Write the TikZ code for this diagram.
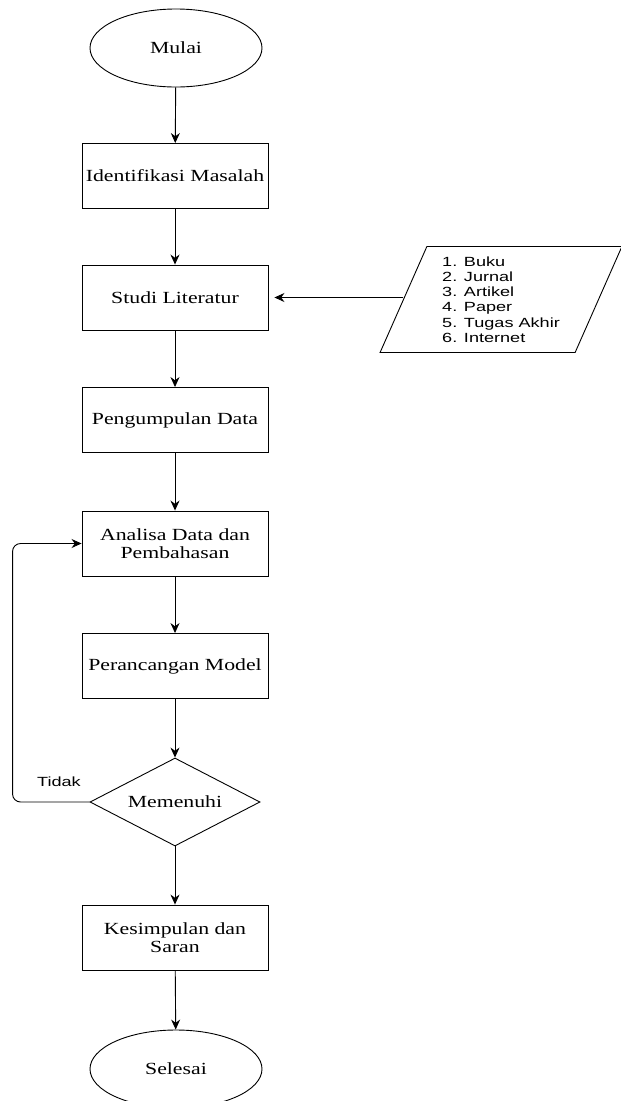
\documentclass[tikz,border=0pt]{standalone}
\usepackage{fontspec}
\setmainfont[FakeStretch=1.28]{Liberation Serif}
\newfontfamily\listfont[FakeStretch=1.36]{Liberation Sans}
\usepackage{tikz}
\usetikzlibrary{shapes.geometric, arrows.meta}
\tikzstyle{startstop} = [ellipse, minimum width=172pt, minimum height=78pt, draw=black, line width=0.9pt, font=\fontsize{17}{18}\selectfont]
\tikzstyle{process} = [rectangle, minimum width=186pt, minimum height=65pt, inner sep=2pt, align=center, draw=black, line width=0.9pt, font=\fontsize{17}{18}\selectfont]
\tikzstyle{decision} = [diamond, aspect=2, inner sep=0pt, minimum width=170pt, minimum height=88pt, draw=black, line width=0.9pt, font=\fontsize{17}{18}\selectfont]
\tikzstyle{io} = [trapezium, trapezium left angle=67, trapezium right angle=113, trapezium stretches=true, minimum width=242pt, minimum height=106pt, align=left, draw=black, line width=0.9pt, font=\listfont\fontsize{13.3}{15.2}\selectfont]
\tikzstyle{arrow} = [line width=0.9pt,-{Stealth[length=10pt,width=9pt]}]

\begin{document}
\begin{tikzpicture}[x=1pt, y=-1pt]
                    \useasboundingbox (0,0) rectangle (621,1101);
                    \clip (0,0) rectangle (621,1101);

                    \node[startstop] (mulai) at (176,48) {Mulai};
                    \node[process] (identifikasi) at (175,176) {Identifikasi Masalah};
                    \node[process] (studi) at (175,297.5) {Studi Literatur};
                    \node[process] (pengumpulan) at (175,420) {Pengumpulan Data};
                    \node[process] (analisa) at (175,543.5) {Analisa Data dan\\Pembahasan};
                    \node[process] (perancangan) at (175,666) {Perancangan Model};
                    \node[decision] (memenuhi) at (175,802) {Memenuhi};
                    \node[process] (kesimpulan) at (175,937.5) {Kesimpulan dan\\Saran};
                    \node[startstop] (selesai) at (176,1069) {Selesai};

                    \node[io] (sumber) at (501,299.5) {1. Buku\\2. Jurnal\\3. Artikel\\4. Paper\\5. Tugas Akhir\\6. Internet};
                    \node[font=\listfont\fontsize{13.3}{15.2}\selectfont] (tidak) at (59,782) {Tidak};

                    \draw[arrow] (mulai) -- (identifikasi);
                    \draw[arrow] (identifikasi) -- (studi);
                    \draw[arrow] (studi) -- (pengumpulan);
                    \draw[arrow] (pengumpulan) -- (analisa);
                    \draw[arrow] (analisa) -- (perancangan);
                    \draw[arrow] (perancangan) -- (memenuhi);
                    \draw[arrow] (memenuhi) -- (kesimpulan);
                    \draw[arrow] (kesimpulan) -- (selesai);
                    \draw[arrow, shorten >=6pt] (sumber.west |- studi.east) -- (studi.east);
                    \draw[arrow, rounded corners=8pt] (memenuhi.west) -| ([xshift=-69pt]analisa.west) -- (analisa.west);
                \end{tikzpicture}
\end{document}
